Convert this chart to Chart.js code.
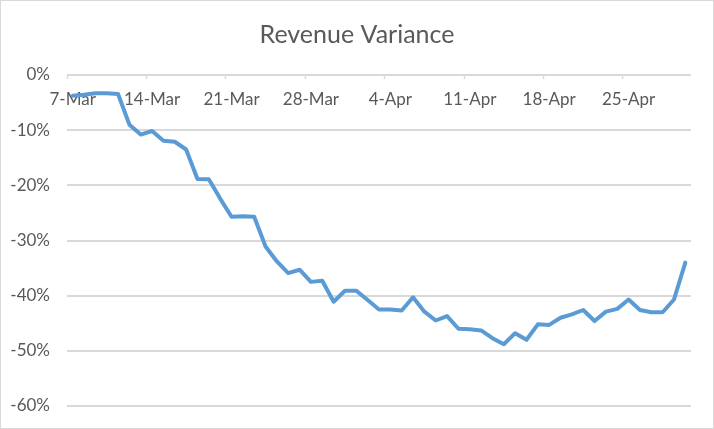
<!DOCTYPE html>
<html>
<head>
<meta charset="utf-8">
<script src="https://cdn.jsdelivr.net/npm/chart.js@4"></script>
<style>
    body { margin: 0; background: #fff; }
    #wrap { width: 714px; height: 429px; box-sizing: border-box; border: 1px solid #d9d9d9; }
    canvas { display: block; }
</style>
</head>
<body>
<div id="wrap"><canvas id="variance-chart" width="712" height="427"></canvas></div>
<script>
// daily dates, 7-Mar to 30-Apr
const dates = [
    '7-Mar', '8-Mar', '9-Mar', '10-Mar', '11-Mar', '12-Mar', '13-Mar',
    '14-Mar', '15-Mar', '16-Mar', '17-Mar', '18-Mar', '19-Mar', '20-Mar',
    '21-Mar', '22-Mar', '23-Mar', '24-Mar', '25-Mar', '26-Mar', '27-Mar',
    '28-Mar', '29-Mar', '30-Mar', '31-Mar', '1-Apr', '2-Apr', '3-Apr',
    '4-Apr', '5-Apr', '6-Apr', '7-Apr', '8-Apr', '9-Apr', '10-Apr',
    '11-Apr', '12-Apr', '13-Apr', '14-Apr', '15-Apr', '16-Apr', '17-Apr',
    '18-Apr', '19-Apr', '20-Apr', '21-Apr', '22-Apr', '23-Apr', '24-Apr',
    '25-Apr', '26-Apr', '27-Apr', '28-Apr', '29-Apr', '30-Apr'
];

// revenue variance, fraction of baseline
const variance = [
    -0.0375, -0.0357, -0.033, -0.033, -0.0345, -0.090, -0.108,
    -0.1015, -0.119, -0.121, -0.135, -0.1885, -0.189, -0.224,
    -0.257, -0.256, -0.257, -0.311, -0.338, -0.359, -0.353,
    -0.375, -0.373, -0.411, -0.391, -0.391, -0.408, -0.425,
    -0.425, -0.427, -0.403, -0.429, -0.445, -0.437, -0.460,
    -0.461, -0.463, -0.477, -0.488, -0.468, -0.480, -0.452,
    -0.453, -0.440, -0.434, -0.426, -0.446, -0.429, -0.424,
    -0.407, -0.426, -0.430, -0.430, -0.407, -0.340
];

const yTicks = [0, -0.1, -0.2, -0.3, -0.4, -0.5, -0.6];

const textGrey = '#595959';
const gridGrey = '#d9d9d9';
const clear = 'rgba(0,0,0,0)';
const labelEvery = 7;

new Chart(document.getElementById('variance-chart'), {
    type: 'line',
    data: {
        labels: dates,
        datasets: [{
            label: 'Revenue Variance',
            data: variance,
            borderColor: '#5b9bd5',
            borderWidth: 4,
            borderJoinStyle: 'round',
            borderCapStyle: 'round',
            pointRadius: 0,
            tension: 0,
            fill: false
        }]
    },
    options: {
        responsive: false,
        animation: false,
        devicePixelRatio: 1,
        layout: { padding: { left: 0, right: 0, bottom: 22 } },
        plugins: {
            legend: { display: false },
            tooltip: { enabled: false },
            title: {
                display: true,
                text: 'Revenue Variance',
                color: textGrey,
                font: { family: 'Lato', size: 25, weight: 'normal' },
                padding: { top: 19, bottom: 25 }
            }
        },
        scales: {
            x: {
                type: 'category',
                position: { y: 0 },
                offset: true,
                border: { display: false },
                grid: {
                    offset: true,
                    drawOnChartArea: false,
                    drawTicks: true,
                    tickLength: 4,
                    tickWidth: 1.5,
                    tickColor: ctx => (ctx.index % labelEvery === 0 ? gridGrey : clear)
                },
                ticks: {
                    autoSkip: false,
                    maxRotation: 0,
                    minRotation: 0,
                    padding: 10,
                    color: textGrey,
                    font: { family: 'Lato', size: 17 },
                    callback: function(value, index) {
                        return index % labelEvery === 0 ? dates[index] : '';
                    }
                }
            },
            y: {
                min: yTicks[yTicks.length - 1],
                max: yTicks[0],
                border: { display: false },
                // invisible tick marks push labels left without adding vertical padding
                grid: { color: gridGrey, lineWidth: 2, drawTicks: true, tickLength: 17, tickColor: clear },
                afterFit: function(scale) { scale.width = 66; },
                afterBuildTicks: function(scale) {
                    scale.ticks = yTicks.map(v => ({ value: v }));
                },
                ticks: {
                    padding: 0,
                    color: textGrey,
                    font: { family: 'Lato', size: 17 },
                    callback: function(value) {
                        return Math.round(value * 100) + '%';
                    }
                }
            },
            // empty right-hand spacer so the title stays centred on the whole canvas
            spacer: {
                type: 'linear',
                position: 'right',
                border: { display: false },
                grid: { display: false },
                ticks: { display: false },
                afterFit: function(scale) { scale.width = 22; }
            }
        }
    }
});
</script>
</body>
</html>
